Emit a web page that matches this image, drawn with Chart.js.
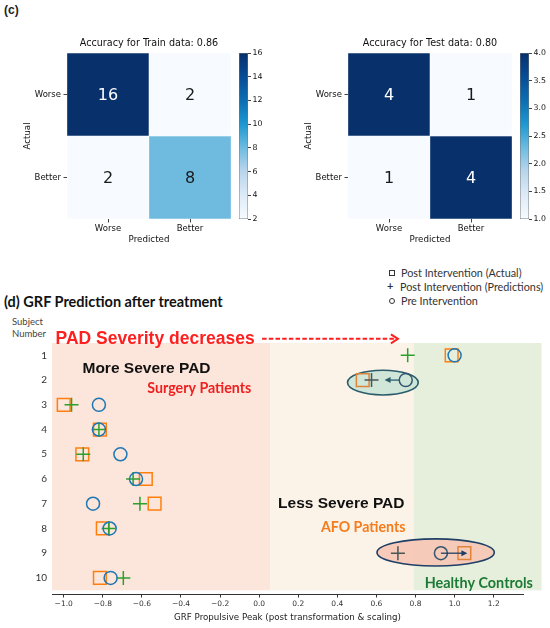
<!DOCTYPE html>
<html>
<head>
<meta charset="utf-8">
<script src="https://cdn.jsdelivr.net/npm/chart.js@4.4.0/dist/chart.umd.min.js"></script>
<style>
  html, body { margin: 0; padding: 0; background: #fff; }
  body { width: 550px; height: 628px; position: relative; overflow: hidden; font-family: "DejaVu Sans", sans-serif; }
  .box { position: absolute; }
  .lbl { position: absolute; white-space: nowrap; color: #222; }
  .leg { position: absolute; font: 10.8px Lato, sans-serif; color: #333; white-space: nowrap; line-height: 12px; }
  .sym { position: absolute; box-sizing: border-box; }
</style>
</head>
<body>
<div class="lbl" style="left:4px;top:3px;font:bold 12px 'Liberation Sans';">(c)</div>

<div class="box" style="left:0;top:30px;width:231px;height:220px"><canvas id="cmTrain"></canvas></div>
<div class="box" style="left:239px;top:30px;width:40px;height:220px"><canvas id="cbTrain"></canvas></div>
<div class="box" style="left:281px;top:30px;width:231px;height:220px"><canvas id="cmTest"></canvas></div>
<div class="box" style="left:520px;top:30px;width:30px;height:220px"><canvas id="cbTest"></canvas></div>

<!-- legend of panel (d) -->
<div class="sym" style="left:389px;top:270px;width:6px;height:6px;border:1px solid #333"></div>
<div class="leg" style="left:401px;top:267px">Post Intervention (Actual)</div>
<div class="leg" style="left:387px;top:280px;font-weight:bold;font-size:11px">+</div>
<div class="leg" style="left:400px;top:281px">Post Intervention (Predictions)</div>
<div class="sym" style="left:389px;top:298px;width:6px;height:6px;border:1px solid #333;border-radius:50%"></div>
<div class="leg" style="left:401px;top:295px">Pre Intervention</div>

<div class="lbl" style="left:4px;top:293px;font:bold 14.5px Lato;color:#111">(d) GRF Prediction after treatment</div>
<div class="lbl" style="left:12px;top:316px;font:9.5px Lato;color:#444;line-height:12px">Subject<br>Number</div>

<div class="box" style="left:0;top:330px;width:550px;height:298px"><canvas id="grf"></canvas></div>

<script>
/* ── panel (c): confusion matrices ───────────────────────────── */
const cmLabels = ["Worse", "Better"];
const trainCounts = [[16, 2], [2, 8]];      // rows = actual, cols = predicted
const testCounts = [[4, 1], [1, 4]];
const trainBarTicks = [2, 4, 6, 8, 10, 12, 14, 16];
const testBarTicks = [1.0, 1.5, 2.0, 2.5, 3.0, 3.5, 4.0];

/* ── panel (d): GRF propulsive peak per subject ─────────────── */
const subjects = [1, 2, 3, 4, 5, 6, 7, 8, 9, 10];
const preValues = [1.00, 0.75, -0.82, -0.82, -0.71, -0.63, -0.85, -0.765, 0.93, -0.76];
const postActual = [0.985, 0.53, -1.00, -0.815, -0.905, -0.58, -0.535, -0.80, 1.05, -0.815];
const postPredicted = [0.76, 0.575, -0.96, -0.82, -0.90, -0.645, -0.61, -0.77, 0.71, -0.695];
const grfTicks = [-1.0, -0.8, -0.6, -0.4, -0.2, 0.0, 0.2, 0.4, 0.6, 0.8, 1.0, 1.2];
const bandEdges = [-1.06, 0.056, 0.79, 1.445];
const circledSubjects = [2, 9];

Chart.defaults.font.family = "'DejaVu Sans'";
Chart.defaults.animation = false;

const blueStops = [
    [0.00, "#f7fbff"], [0.14, "#deebf7"], [0.29, "#b8d5ec"], [0.43, "#6dbbdf"],
    [0.57, "#1f98d1"], [0.71, "#0c6fb3"], [0.86, "#084c95"], [1.00, "#08306b"]
];

function hexRgb(h) {
    return [1, 3, 5].map(i => parseInt(h.slice(i, i + 2), 16));
}

function blues(t) {
    t = Math.max(0, Math.min(1, t));
    for (let i = 1; i < blueStops.length; i++) {
        const [t1, c1] = blueStops[i];
        if (t <= t1) {
            const [t0, c0] = blueStops[i - 1];
            const f = (t - t0) / (t1 - t0);
            const a = hexRgb(c0), b = hexRgb(c1);
            return `rgb(${a.map((v, k) => Math.round(v + (b[k] - v) * f)).join(",")})`;
        }
    }
    return blueStops[blueStops.length - 1][1];
}

// numbers in the cells
const cellText = {
    id: "cellText",
    afterDatasetsDraw(chart) {
        const ctx = chart.ctx;
        ctx.save();
        ctx.font = "16px 'DejaVu Sans'";
        ctx.textAlign = "center";
        ctx.textBaseline = "middle";
        chart.data.datasets.forEach((ds, i) => {
            chart.getDatasetMeta(i).data.forEach((bar, j) => {
                ctx.fillStyle = ds.textColor[j];
                ctx.fillText(ds.counts[j], bar.x, (bar.y + bar.base) / 2 + 1);
            });
        });
        ctx.restore();
    }
};

// title centred over the matrix itself, like matplotlib does
const areaTitle = {
    id: "areaTitle",
    afterDraw(chart, args, opts) {
        const { ctx, chartArea: a } = chart;
        ctx.save();
        ctx.font = "9.6px 'DejaVu Sans'";
        ctx.fillStyle = "#111";
        ctx.textAlign = "center";
        ctx.textBaseline = "middle";
        ctx.fillText(opts.text, (a.left + a.right) / 2, a.top - 10);
        ctx.restore();
    }
};

function makeMatrix(id, title, counts, cbTicks) {
    const vmin = cbTicks[0], vmax = cbTicks[cbTicks.length - 1];
    const n = cmLabels.length;
    const norm = v => (v - vmin) / (vmax - vmin);
    const tickFont = { size: 8.5 };
    return new Chart(document.getElementById(id), {
        type: "bar",
        data: {
            labels: cmLabels,
            datasets: counts.map((row, r) => ({
                label: cmLabels[r],
                data: row.map(() => [n - r - 1, n - r]),
                counts: row,
                backgroundColor: row.map(v => blues(norm(v))),
                textColor: row.map(v => norm(v) > 0.5 ? "#ffffff" : "#1a1a1a"),
                borderColor: "#ffffff",
                borderWidth: 0.5,
                borderSkipped: false,
                barPercentage: 1,
                categoryPercentage: 1,
                grouped: false
            }))
        },
        options: {
            responsive: true, maintainAspectRatio: false,
            layout: { padding: { top: 23 } },
            plugins: {
                legend: { display: false },
                tooltip: { enabled: false },
                areaTitle: { text: title }
            },
            scales: {
                x: {
                    type: "category",
                    grid: { drawOnChartArea: false, offset: false, tickLength: 3.5, color: "#444" },
                    border: { display: false },
                    ticks: { color: "#111", font: tickFont, padding: 1 },
                    title: { display: true, text: "Predicted", color: "#111", font: { size: 8.7 }, padding: { top: 0, bottom: 5.5 } },
                    afterFit: s => { s.height = 31; }
                },
                y: {
                    type: "linear", min: 0, max: n,
                    afterBuildTicks: s => { s.ticks = cmLabels.map((_, k) => ({ value: n - k - 0.5 })); },
                    grid: { drawOnChartArea: false, tickLength: 3.5, color: "#444" },
                    border: { display: false },
                    ticks: { color: "#111", font: tickFont, padding: 2.5, callback: v => cmLabels[n - 1 - Math.floor(v)] },
                    title: { display: true, text: "Actual", color: "#111", font: { size: 8.7 }, padding: { top: 23, bottom: 0 } },
                    afterFit: s => { s.width = 67; }
                }
            }
        },
        plugins: [cellText, areaTitle]
    });
}

function makeColorbar(id, cbTicks, digits, axisWidth) {
    const vmin = cbTicks[0], vmax = cbTicks[cbTicks.length - 1];
    return new Chart(document.getElementById(id), {
        type: "bar",
        data: {
            labels: [""],
            datasets: [{
                data: [[vmin, vmax]],
                backgroundColor: c => {
                    const a = c.chart.chartArea;
                    if (!a) return "#9ecae1";
                    const g = c.chart.ctx.createLinearGradient(0, a.bottom, 0, a.top);
                    blueStops.forEach(([t, col]) => g.addColorStop(t, col));
                    return g;
                },
                borderColor: "#777",
                borderWidth: 0.8,
                borderSkipped: false,
                barPercentage: 1,
                categoryPercentage: 1
            }]
        },
        options: {
            responsive: true, maintainAspectRatio: false,
            layout: { padding: { top: 23, bottom: 31 } },
            plugins: { legend: { display: false }, tooltip: { enabled: false } },
            scales: {
                x: { display: false },
                y: {
                    position: "right", min: vmin, max: vmax,
                    afterBuildTicks: s => { s.ticks = cbTicks.map(v => ({ value: v })); },
                    grid: { drawOnChartArea: false, tickLength: 3, color: "#444" },
                    border: { display: false },
                    ticks: { color: "#111", font: { size: 7.8 }, padding: 1.5, callback: v => v.toFixed(digits) },
                    afterFit: s => { s.width = axisWidth; }
                }
            }
        }
    });
}

makeMatrix("cmTrain", "Accuracy for Train data: 0.86", trainCounts, trainBarTicks);
makeColorbar("cbTrain", trainBarTicks, 0, 31);
makeMatrix("cmTest", "Accuracy for Test data: 0.80", testCounts, testBarTicks);
makeColorbar("cbTest", testBarTicks, 1, 21);

/* ── panel (d) decorations: shaded groups, notes, ellipses, arrows ── */
const bandColors = ["#fce5da", "#fcf3e8", "#e5efdb"];

function drawArrow(ctx, x0, y0, x1, y1, color) {
    const dir = Math.sign(x1 - x0);
    ctx.strokeStyle = color;
    ctx.fillStyle = color;
    ctx.lineWidth = 1.3;
    ctx.beginPath();
    ctx.moveTo(x0, y0);
    ctx.lineTo(x1 - dir * 3, y1);
    ctx.stroke();
    ctx.beginPath();
    ctx.moveTo(x1, y1);
    ctx.lineTo(x1 - dir * 6, y1 - 3);
    ctx.lineTo(x1 - dir * 6, y1 + 3);
    ctx.closePath();
    ctx.fill();
}

const grfDecor = {
    id: "grfDecor",
    beforeDatasetsDraw(chart) {
        const { ctx, scales: { x, y } } = chart;
        const top = y.getPixelForValue(0.5), bottom = y.getPixelForValue(10.5);
        ctx.save();
        bandColors.forEach((c, i) => {
            const x0 = x.getPixelForValue(bandEdges[i]);
            const x1 = x.getPixelForValue(bandEdges[i + 1]);
            ctx.fillStyle = c;
            ctx.fillRect(x0, top, x1 - x0, bottom - top);
        });
        const rings = [
            { cx: 0.633, cy: 2.1, rx: 0.181, ry: 0.5, fill: "rgba(203,229,214,0.92)", stroke: "#2b5c6b" },
            { cx: 0.903, cy: 8.97, rx: 0.30, ry: 0.55, fill: "rgba(246,199,181,0.92)", stroke: "#1f3f66" }
        ];
        rings.forEach(e => {
            const px = x.getPixelForValue(e.cx), py = y.getPixelForValue(e.cy);
            const rx = x.getPixelForValue(e.cx + e.rx) - px;
            const ry = y.getPixelForValue(e.cy + e.ry) - py;
            ctx.beginPath();
            ctx.ellipse(px, py, rx, Math.abs(ry), 0, 0, Math.PI * 2);
            ctx.fillStyle = e.fill;
            ctx.fill();
            ctx.lineWidth = 1.6;
            ctx.strokeStyle = e.stroke;
            ctx.stroke();
        });
        ctx.restore();
    },
    afterDatasetsDraw(chart) {
        const { ctx, scales: { x, y } } = chart;
        ctx.save();
        const notes = [
            ["PAD Severity decreases", -1.042, 0.35, "bold 17.5px 'Liberation Sans'", "#fe1f1f"],
            ["More Severe PAD", -0.904, 1.52, "bold 15.5px 'Liberation Sans'", "#111"],
            ["Surgery Patients", -0.572, 2.35, "bold 14.2px Lato", "#ee2020"],
            ["Less Severe PAD", 0.097, 6.98, "bold 15.5px 'Liberation Sans'", "#111"],
            ["AFO Patients", 0.316, 7.94, "bold 14.2px Lato", "#f47c1c"],
            ["Healthy Controls", 0.847, 10.2, "bold 14.4px Lato", "#1c7a36"]
        ];
        ctx.textAlign = "left";
        ctx.textBaseline = "middle";
        notes.forEach(([t, vx, vy, font, color]) => {
            ctx.font = font;
            ctx.fillStyle = color;
            ctx.fillText(t, x.getPixelForValue(vx), y.getPixelForValue(vy));
        });

        // dashed "severity" arrow
        const ay = y.getPixelForValue(0.33);
        const ax0 = x.getPixelForValue(0.015), ax1 = x.getPixelForValue(0.71);
        ctx.strokeStyle = "#fe1f1f";
        ctx.lineWidth = 2;
        ctx.setLineDash([4.5, 2.2]);
        ctx.beginPath();
        ctx.moveTo(ax0, ay);
        ctx.lineTo(ax1 - 2, ay);
        ctx.stroke();
        ctx.setLineDash([]);
        ctx.beginPath();
        ctx.moveTo(ax1 - 7, ay - 4.5);
        ctx.lineTo(ax1, ay);
        ctx.lineTo(ax1 - 7, ay + 4.5);
        ctx.stroke();

        // treatment arrows inside the highlighted subjects
        const i2 = subjects.indexOf(2), i9 = subjects.indexOf(9);
        drawArrow(ctx, x.getPixelForValue(preValues[i2]) - 6.5, y.getPixelForValue(2),
            x.getPixelForValue(postPredicted[i2]) + 13, y.getPixelForValue(2), "#2b5c6b");
        drawArrow(ctx, x.getPixelForValue(preValues[i9]), y.getPixelForValue(9),
            x.getPixelForValue(postActual[i9]) + 3, y.getPixelForValue(9), "#1f3f66");
        ctx.restore();
    }
};

const markColor = (base, dark) => subjects.map(s => circledSubjects.includes(s) ? dark : base);

new Chart(document.getElementById("grf"), {
    type: "scatter",
    data: {
        datasets: [
            {
                label: "Pre Intervention",
                data: subjects.map((s, i) => ({ x: preValues[i], y: s })),
                pointStyle: "circle", pointRadius: 6.5, pointBorderWidth: 1.5,
                pointBorderColor: markColor("#1f77b4", "#33566e"),
                pointBackgroundColor: "rgba(0,0,0,0)"
            },
            {
                label: "Post Intervention (Predictions)",
                data: subjects.map((s, i) => ({ x: postPredicted[i], y: s })),
                pointStyle: "cross", pointRadius: 7, pointBorderWidth: 1.5,
                pointBorderColor: markColor("#2ca02c", "#4a5656"),
                pointBackgroundColor: "rgba(0,0,0,0)"
            },
            {
                label: "Post Intervention (Actual)",
                data: subjects.map((s, i) => ({ x: postActual[i], y: s })),
                pointStyle: "rect", pointRadius: 9, pointBorderWidth: 1.5,
                pointBorderColor: markColor("#ff7f0e", "#e0843a"),
                pointBackgroundColor: "rgba(0,0,0,0)"
            }
        ]
    },
    options: {
        responsive: true, maintainAspectRatio: false,
        layout: { padding: { top: 13, right: 27 } },
        plugins: { legend: { display: false }, tooltip: { enabled: false } },
        scales: {
            x: {
                type: "linear", min: -1.06, max: 1.35,
                afterBuildTicks: s => { s.ticks = grfTicks.map(v => ({ value: v })); },
                grid: { drawOnChartArea: false, tickLength: 3.5, color: "#333" },
                border: { display: true, color: "#333", width: 1 },
                ticks: {
                    color: "#333", font: { size: 7.5 }, padding: 2, maxRotation: 0, autoSkip: false,
                    callback: v => v.toFixed(1).replace("-", "\u2212")
                },
                title: {
                    display: true, text: "GRF Propulsive Peak (post transformation & scaling)",
                    color: "#222", font: { size: 8.7 }, padding: { top: 0, bottom: 5 }
                },
                afterFit: s => { s.height = 34; }
            },
            y: {
                type: "linear", min: 0.5, max: 10.65, reverse: true,
                afterBuildTicks: s => { s.ticks = subjects.map(v => ({ value: v })); },
                grid: { display: false, drawTicks: false },
                border: { display: false },
                ticks: { color: "#333", font: { family: "Lato", size: 10 }, padding: 5, autoSkip: false },
                afterFit: s => { s.width = 52; }
            }
        }
    },
    plugins: [grfDecor]
});
</script>
</body>
</html>
